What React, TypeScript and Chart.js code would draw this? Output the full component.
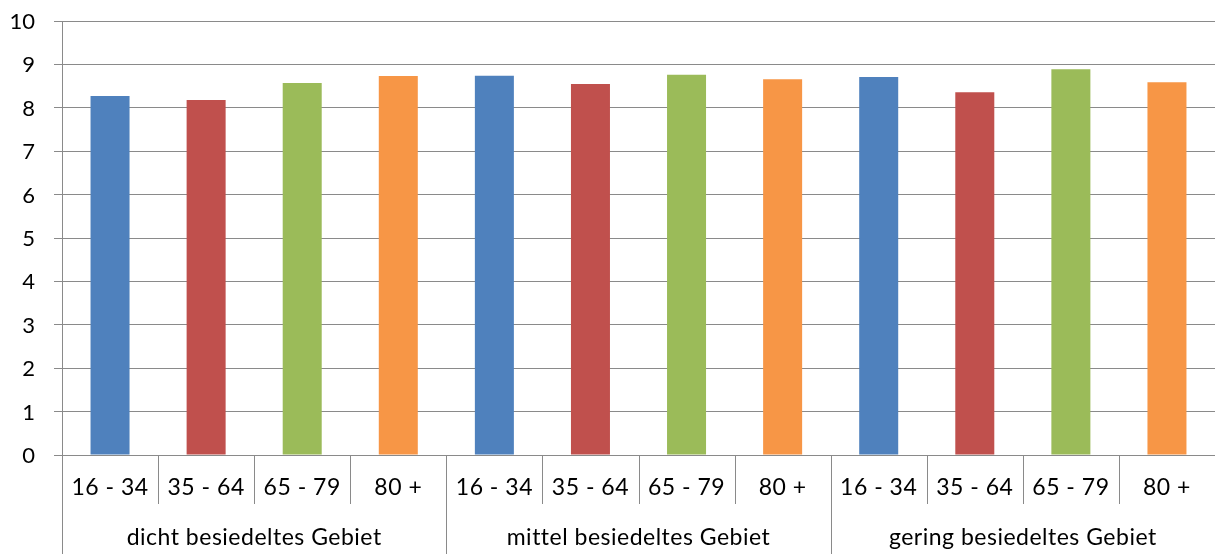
import React, { useEffect, useRef } from "react";
import { Chart, registerables } from "chart.js";

Chart.register(...registerables);

const ageGroups = ["16 - 34", "35 - 64", "65 - 79", "80 +"];
const areaGroups = ["dicht besiedeltes Gebiet", "mittel besiedeltes Gebiet", "gering besiedeltes Gebiet"];
const dichtValues = [8.27, 8.18, 8.57, 8.73];
const mittelValues = [8.74, 8.55, 8.76, 8.66];
const geringValues = [8.71, 8.36, 8.89, 8.59];
const ageColors = ["#4F81BD", "#C0504D", "#9BBB59", "#F79646"];
const yMin = 0;
const yMax = 10;
const yStep = 1;

const FONT = "Lato";
const GRID = "#8a8a8a";

export default function App() {
  const ref = useRef<HTMLCanvasElement | null>(null);

  useEffect(() => {
    document.body.style.margin = "0";
    const canvas = ref.current;
    if (!canvas) return;

    const labels: string[] = [];
    const values: number[] = [];
    const colors: string[] = [];
    const groupSeries = [dichtValues, mittelValues, geringValues];
    groupSeries.forEach((series) => {
      series.forEach((v, i) => {
        labels.push(ageGroups[i]);
        values.push(v);
        colors.push(ageColors[i]);
      });
    });

    const multiAxisPlugin = {
      id: "multiAxis",
      afterDraw(chart: any) {
        const ctx = chart.ctx;
        const area = chart.chartArea;
        const xs = chart.scales.x;
        const ys = chart.scales.y;
        const n = labels.length;
        const per = ageGroups.length;
        const w = (area.right - area.left) / n;
        ctx.save();
        ctx.strokeStyle = GRID;
        ctx.lineWidth = 1;
        for (let k = 0; k < n; k++) {
          const x = Math.round(area.left + k * w) + 0.5;
          const y2 = k % per === 0 ? chart.height : area.bottom + 49;
          ctx.beginPath();
          ctx.moveTo(x, area.bottom);
          ctx.lineTo(x, y2);
          ctx.stroke();
        }
        ctx.fillStyle = "#000";
        ctx.textBaseline = "middle";
        // y tick labels
        ctx.textAlign = "right";
        ctx.font = `22px ${FONT}`;
        ys.ticks.forEach((t: any) => {
          ctx.fillText(String(t.value), area.left - 27, ys.getPixelForValue(t.value) + 1);
        });
        // x labels
        ctx.textAlign = "center";
        ctx.font = `23px ${FONT}`;
        try {
          (ctx as any).letterSpacing = "0.5px";
        } catch (e) {}
        for (let i = 0; i < n; i++) {
          ctx.fillText(labels[i], xs.getPixelForValue(i), area.bottom + 33);
        }
        areaGroups.forEach((g, gi) => {
          const a = xs.getPixelForValue(gi * per);
          const b = xs.getPixelForValue(gi * per + per - 1);
          ctx.fillText(g, (a + b) / 2, area.bottom + 83);
        });
        ctx.restore();
      },
    };

    const chart = new Chart(canvas, {
      type: "bar",
      data: {
        labels,
        datasets: [
          {
            data: values,
            backgroundColor: colors,
            borderWidth: 0,
            categoryPercentage: 1,
            barPercentage: 0.406,
          },
        ],
      },
      options: {
        responsive: false,
        animation: false,
        layout: { padding: { top: 21, right: 1, left: 0, bottom: 0 } },
        plugins: { legend: { display: false }, tooltip: { enabled: false } },
        scales: {
          x: {
            display: true,
            ticks: { display: false },
            grid: { display: false },
            border: { display: false },
            afterFit: (s: any) => {
              s.height = 99;
            },
          },
          y: {
            min: yMin,
            max: yMax,
            ticks: {
              stepSize: yStep,
              display: false,
            },
            grid: { color: GRID, lineWidth: 1, tickLength: 8, drawTicks: true },
            border: { color: GRID, width: 1 },
            afterFit: (s: any) => {
              s.width = 62;
            },
          },
        },
      },
      plugins: [multiAxisPlugin],
    });

    return () => chart.destroy();
  }, []);

  return <canvas ref={ref} width={1216} height={554} style={{ display: "block" }} />;
}
